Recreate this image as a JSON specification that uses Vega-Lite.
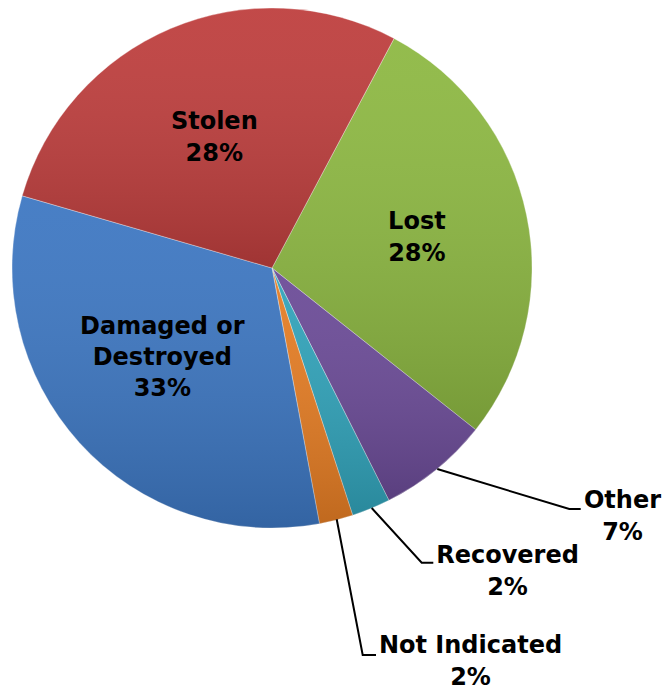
{
  "$schema": "https://vega.github.io/schema/vega-lite/v6.json",
  "width": 669,
  "height": 690,
  "padding": 0,
  "autosize": {"type": "none"},
  "background": "white",
  "config": {"view": {"stroke": null}},
  "datasets": {
    "slices": [
      {"category": "Lost", "label": "Lost\n28%", "value": 27.9, "order": 1},
      {"category": "Other", "label": "Other\n7%", "value": 6.9, "order": 2},
      {"category": "Recovered", "label": "Recovered\n2%", "value": 2.4, "order": 3},
      {"category": "Not Indicated", "label": "Not Indicated\n2%", "value": 2.1, "order": 4},
      {"category": "Damaged or Destroyed", "label": "Damaged or\nDestroyed\n33%", "value": 32.4, "order": 5},
      {"category": "Stolen", "label": "Stolen\n28%", "value": 28.3, "order": 6}
    ],
    "callouts": [
      {"category": "Other", "text": "Other\n7%", "x": 350.5, "y": -233},
      {"category": "Recovered", "text": "Recovered\n2%", "x": 235.5, "y": -287.5},
      {"category": "Not Indicated", "text": "Not Indicated\n2%", "x": 198.5, "y": -377.5}
    ],
    "leaders": [
      {"category": "Other", "seq": 1, "x": 165.3, "y": -201},
      {"category": "Other", "seq": 2, "x": 297.3, "y": -241},
      {"category": "Other", "seq": 3, "x": 308.7, "y": -241},
      {"category": "Recovered", "seq": 1, "x": 99.7, "y": -240},
      {"category": "Recovered", "seq": 2, "x": 149.7, "y": -294.7},
      {"category": "Recovered", "seq": 3, "x": 161.3, "y": -294.7},
      {"category": "Not Indicated", "seq": 1, "x": 64.7, "y": -251.3},
      {"category": "Not Indicated", "seq": 2, "x": 90.7, "y": -387},
      {"category": "Not Indicated", "seq": 3, "x": 104, "y": -387}
    ]
  },
  "layer": [
    {
      "data": {"name": "slices"},
      "mark": {"type": "arc", "outerRadius": 260, "stroke": "#ffffff", "strokeOpacity": 0.35, "strokeWidth": 1},
      "encoding": {
        "theta": {"field": "value", "type": "quantitative", "stack": true, "scale": {"range": [0.4887, 6.7719]}},
        "order": {"field": "order", "type": "quantitative"},
        "color": {
          "field": "category", "type": "nominal", "legend": null,
          "scale": {
            "domain": ["Lost", "Other", "Recovered", "Not Indicated", "Damaged or Destroyed", "Stolen"],
            "range": ["#8DB842", "#6B4B97", "#31A3BA", "#E57D24", "#3D77C2", "#BE3E3D"]
          }
        },
        "x": {"datum": 0, "type": "quantitative", "scale": {"domain": [-272, 397], "nice": false, "zero": false}, "axis": null},
        "y": {"datum": 0, "type": "quantitative", "scale": {"domain": [-422, 268], "nice": false, "zero": false}, "axis": null}
      }
    },
    {
      "data": {"name": "slices"},
      "mark": {
        "type": "arc", "outerRadius": 260,
        "color": {"gradient": "linear", "x1": 0, "y1": 0, "x2": 0, "y2": 1, "stops": [{"offset": 0, "color": "rgba(255,255,255,0.06)"}, {"offset": 1, "color": "rgba(0,0,0,0.16)"}]}
      },
      "encoding": {
        "theta": {"field": "value", "type": "quantitative", "stack": true},
        "order": {"field": "order", "type": "quantitative"},
        "x": {"datum": 0, "type": "quantitative"},
        "y": {"datum": 0, "type": "quantitative"}
      }
    },
    {
      "data": {"name": "slices"},
      "mark": {"type": "text", "radius": 148, "dy": -16, "font": "DejaVu Sans", "fontWeight": "bold", "fontSize": 24, "lineBreak": "\n", "lineHeight": 32, "align": "center", "baseline": "middle", "color": "#000000"},
      "encoding": {
        "theta": {"field": "value", "type": "quantitative", "stack": true},
        "order": {"field": "order", "type": "quantitative"},
        "text": {"condition": {"test": "datum.category === 'Lost'", "field": "label"}, "value": ""},
        "x": {"datum": 0, "type": "quantitative"},
        "y": {"datum": 0, "type": "quantitative"}
      }
    },
    {
      "data": {"name": "slices"},
      "mark": {"type": "text", "radius": 148, "dy": -10, "font": "DejaVu Sans", "fontWeight": "bold", "fontSize": 24, "lineBreak": "\n", "lineHeight": 32, "align": "center", "baseline": "middle", "color": "#000000"},
      "encoding": {
        "theta": {"field": "value", "type": "quantitative", "stack": true},
        "order": {"field": "order", "type": "quantitative"},
        "text": {"condition": {"test": "datum.category === 'Stolen'", "field": "label"}, "value": ""},
        "x": {"datum": 0, "type": "quantitative"},
        "y": {"datum": 0, "type": "quantitative"}
      }
    },
    {
      "data": {"name": "slices"},
      "mark": {"type": "text", "radius": 148, "dy": -40, "font": "DejaVu Sans", "fontWeight": "bold", "fontSize": 24, "lineBreak": "\n", "lineHeight": 31, "align": "center", "baseline": "middle", "color": "#000000"},
      "encoding": {
        "theta": {"field": "value", "type": "quantitative", "stack": true},
        "order": {"field": "order", "type": "quantitative"},
        "text": {"condition": {"test": "datum.category === 'Damaged or Destroyed'", "field": "label"}, "value": ""},
        "x": {"datum": 0, "type": "quantitative"},
        "y": {"datum": 0, "type": "quantitative"}
      }
    },
    {
      "data": {"name": "leaders"},
      "mark": {"type": "line", "color": "#000000", "strokeWidth": 2},
      "encoding": {
        "x": {"field": "x", "type": "quantitative"},
        "y": {"field": "y", "type": "quantitative"},
        "detail": {"field": "category", "type": "nominal"},
        "order": {"field": "seq", "type": "quantitative"}
      }
    },
    {
      "data": {"name": "callouts"},
      "mark": {"type": "text", "font": "DejaVu Sans", "fontWeight": "bold", "fontSize": 24, "lineBreak": "\n", "lineHeight": 32, "align": "center", "baseline": "middle", "color": "#000000"},
      "encoding": {
        "x": {"field": "x", "type": "quantitative"},
        "y": {"field": "y", "type": "quantitative"},
        "text": {"field": "text", "type": "nominal"}
      }
    }
  ]
}
